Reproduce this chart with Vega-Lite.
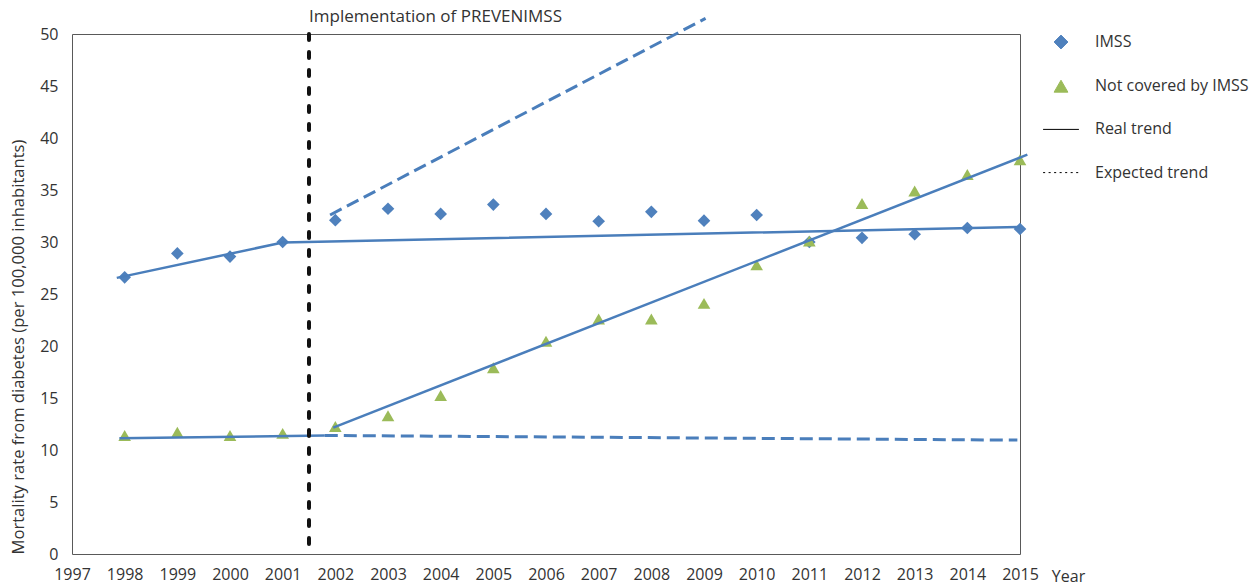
{
  "$schema": "https://vega.github.io/schema/vega-lite/v6.json",
  "width": 948,
  "height": 520,
  "autosize": "none",
  "padding": {"left": 72, "top": 34, "right": 232, "bottom": 33},
  "background": "white",
  "config": {
    "font": "Open Sans",
    "view": {"stroke": "#595959", "strokeWidth": 1},
    "axisX": {"grid": false, "ticks": false, "tickSize": 0, "domain": false, "labelFontSize": 16, "labelColor": "#333333", "labelFont": "Open Sans", "labelPadding": 12, "labelFlush": false, "labelOverlap": false, "titleFont": "Open Sans", "titleFontSize": 16, "titleFontWeight": "normal", "titleColor": "#333333"},
    "axisY": {"grid": false, "ticks": false, "tickSize": 0, "domain": false, "labelFontSize": 16, "labelColor": "#333333", "labelFont": "Open Sans", "labelPadding": 14, "labelFlush": false, "labelOverlap": false, "titleFont": "Open Sans", "titleFontSize": 16.6, "titleFontWeight": "normal", "titleColor": "#333333"}
  },
  "datasets": {
    "points": [
      {"year": 1998, "series": "IMSS", "value": 26.6},
      {"year": 1999, "series": "IMSS", "value": 28.9},
      {"year": 2000, "series": "IMSS", "value": 28.6},
      {"year": 2001, "series": "IMSS", "value": 30.0},
      {"year": 2002, "series": "IMSS", "value": 32.1},
      {"year": 2003, "series": "IMSS", "value": 33.2},
      {"year": 2004, "series": "IMSS", "value": 32.7},
      {"year": 2005, "series": "IMSS", "value": 33.6},
      {"year": 2006, "series": "IMSS", "value": 32.7},
      {"year": 2007, "series": "IMSS", "value": 32.0},
      {"year": 2008, "series": "IMSS", "value": 32.9},
      {"year": 2009, "series": "IMSS", "value": 32.05},
      {"year": 2010, "series": "IMSS", "value": 32.6},
      {"year": 2011, "series": "IMSS", "value": 30.0},
      {"year": 2012, "series": "IMSS", "value": 30.4},
      {"year": 2013, "series": "IMSS", "value": 30.75},
      {"year": 2014, "series": "IMSS", "value": 31.35},
      {"year": 2015, "series": "IMSS", "value": 31.25},
      {"year": 1998, "series": "Not covered by IMSS", "value": 11.4},
      {"year": 1999, "series": "Not covered by IMSS", "value": 11.7},
      {"year": 2000, "series": "Not covered by IMSS", "value": 11.4},
      {"year": 2001, "series": "Not covered by IMSS", "value": 11.6},
      {"year": 2002, "series": "Not covered by IMSS", "value": 12.25},
      {"year": 2003, "series": "Not covered by IMSS", "value": 13.3},
      {"year": 2004, "series": "Not covered by IMSS", "value": 15.25},
      {"year": 2005, "series": "Not covered by IMSS", "value": 17.9},
      {"year": 2006, "series": "Not covered by IMSS", "value": 20.45},
      {"year": 2007, "series": "Not covered by IMSS", "value": 22.6},
      {"year": 2008, "series": "Not covered by IMSS", "value": 22.6},
      {"year": 2009, "series": "Not covered by IMSS", "value": 24.1},
      {"year": 2010, "series": "Not covered by IMSS", "value": 27.8},
      {"year": 2011, "series": "Not covered by IMSS", "value": 30.1},
      {"year": 2012, "series": "Not covered by IMSS", "value": 33.7},
      {"year": 2013, "series": "Not covered by IMSS", "value": 34.9},
      {"year": 2014, "series": "Not covered by IMSS", "value": 36.5},
      {"year": 2015, "series": "Not covered by IMSS", "value": 37.9}
    ],
    "solid": [
      {"seg": "imss_real", "year": 1997.85, "value": 26.55},
      {"seg": "imss_real", "year": 2001, "value": 29.95},
      {"seg": "imss_real", "year": 2015, "value": 31.45},
      {"seg": "nc_pre", "year": 1997.9, "value": 11.13},
      {"seg": "nc_pre", "year": 2001.8, "value": 11.4},
      {"seg": "nc_post", "year": 2001.96, "value": 12.15},
      {"seg": "nc_post", "year": 2015.14, "value": 38.4}
    ],
    "dashed": [
      {"seg": "imss_exp", "year": 2001.9, "value": 32.6},
      {"seg": "imss_exp", "year": 2009.03, "value": 51.5},
      {"seg": "nc_exp", "year": 2001.8, "value": 11.4},
      {"seg": "nc_exp", "year": 2014.95, "value": 10.95}
    ],
    "rule": [{"year": 2001.5}],
    "note": [{"year": 2001.5, "value": 51.65, "label": "Implementation of PREVENIMSS"}]
  },
  "encoding": {
    "x": {
      "field": "year",
      "type": "quantitative",
      "scale": {"domain": [1997, 2015], "nice": false, "zero": false},
      "axis": {
        "values": [1997, 1998, 1999, 2000, 2001, 2002, 2003, 2004, 2005, 2006, 2007, 2008, 2009, 2010, 2011, 2012, 2013, 2014, 2015],
        "format": "d",
        "title": "Year",
        "titleX": 996,
        "titleY": 22,
        "titleAlign": "center",
        "titleBaseline": "middle",
        "titleAnchor": null
      }
    }
  },
  "layer": [
    {
      "data": {"name": "points"},
      "mark": {"type": "point", "filled": true, "size": 160, "opacity": 1, "clip": false},
      "encoding": {
        "y": {
          "field": "value",
          "type": "quantitative",
          "scale": {"domain": [0, 50], "nice": false},
          "axis": {
            "values": [0, 5, 10, 15, 20, 25, 30, 35, 40, 45, 50],
            "title": "Mortality rate from diabetes (per 100,000 inhabitants)",
            "titleAnchor": "start",
            "titlePadding": 13
          }
        },
        "color": {
          "field": "series",
          "type": "nominal",
          "scale": {
            "domain": ["IMSS", "Not covered by IMSS", "Real trend", "Expected trend"],
            "range": ["#4F81BD", "#9BBB59", "#000000", "#000000"]
          },
          "legend": {
            "title": null,
            "orient": "none",
            "legendX": 981,
            "legendY": 0,
            "labelFont": "Open Sans",
            "labelFontSize": 16,
            "labelColor": "#333333",
            "labelOffset": 26,
            "rowPadding": 27.2,
            "symbolSize": 190,
            "symbolStrokeWidth": 1,
            "symbolOpacity": 1,
            "encode": {
              "symbols": {
                "update": {
                  "stroke": {"scale": "color", "field": "value"},
                  "strokeWidth": {"value": 1}
                }
              }
            }
          }
        },
        "shape": {
          "field": "series",
          "type": "nominal",
          "scale": {
            "domain": ["IMSS", "Not covered by IMSS", "Real trend", "Expected trend"],
            "range": ["diamond", "triangle-up", "M-2.6,0H2.6", "M-2.6,0H-2.3M-1.8,0H-1.5M-1.0,0H-0.7M-0.2,0H0.1M0.6,0H0.9M1.4,0H1.7M2.2,0H2.5"]
          },
          "legend": {"title": null}
        }
      }
    },
    {
      "data": {"name": "solid"},
      "mark": {"type": "line", "color": "#4A7EBB", "strokeWidth": 2.5, "clip": false},
      "encoding": {
        "y": {"field": "value", "type": "quantitative", "scale": {"domain": [0, 50], "nice": false}},
        "detail": {"field": "seg", "type": "nominal"}
      }
    },
    {
      "data": {"name": "dashed"},
      "mark": {"type": "line", "color": "#4A7EBB", "strokeWidth": 3, "strokeDash": [13, 6], "clip": false},
      "encoding": {
        "y": {"field": "value", "type": "quantitative", "scale": {"domain": [0, 50], "nice": false}},
        "detail": {"field": "seg", "type": "nominal"}
      }
    },
    {
      "data": {"name": "rule"},
      "mark": {"type": "rule", "color": "#111111", "strokeWidth": 4, "strokeDash": [6, 12], "strokeCap": "round"},
      "encoding": {}
    },
    {
      "data": {"name": "note"},
      "mark": {"type": "text", "align": "left", "baseline": "middle", "font": "Open Sans", "fontSize": 17, "color": "#333333", "clip": false},
      "encoding": {
        "y": {"field": "value", "type": "quantitative", "scale": {"domain": [0, 50], "nice": false}},
        "text": {"field": "label", "type": "nominal"}
      }
    }
  ]
}
